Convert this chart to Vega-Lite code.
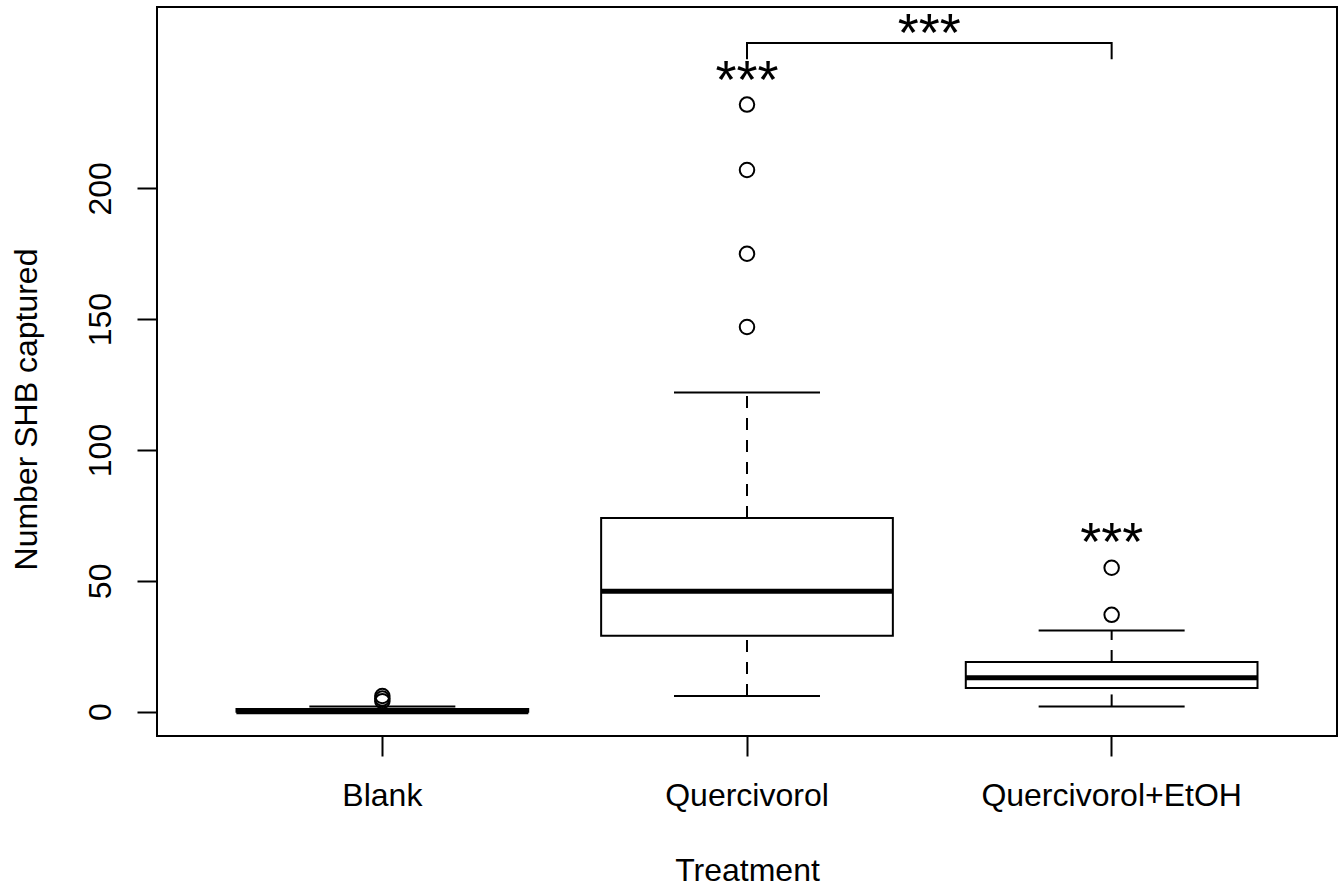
{
  "$schema": "https://vega.github.io/schema/vega-lite/v6.json",
  "autosize": {"type": "none"},
  "padding": {"left": 157, "top": 7, "right": 2, "bottom": 150},
  "width": 1180,
  "height": 729,
  "background": "white",
  "config": {
    "font": "Liberation Sans",
    "view": {"stroke": "black", "strokeWidth": 2},
    "axis": {
      "grid": false,
      "domain": false,
      "tickColor": "black",
      "tickWidth": 2,
      "tickSize": 20,
      "labelColor": "black",
      "titleColor": "black",
      "labelFont": "Liberation Sans",
      "titleFont": "Liberation Sans",
      "labelFontSize": 32,
      "titleFontSize": 32,
      "titleFontWeight": "normal",
      "labelLimit": 0,
      "labelOverlap": false
    }
  },
  "datasets": {
    "boxes": [
      {"treatment": "Blank", "lo": 0, "q1": 0, "median": 0, "q3": 1, "hi": 2},
      {"treatment": "Quercivorol", "lo": 6, "q1": 29, "median": 46, "q3": 74, "hi": 122},
      {"treatment": "Quercivorol+EtOH", "lo": 2, "q1": 9, "median": 13, "q3": 19, "hi": 31}
    ],
    "outliers": [
      {"treatment": "Blank", "value": 4},
      {"treatment": "Blank", "value": 5},
      {"treatment": "Blank", "value": 6},
      {"treatment": "Quercivorol", "value": 147},
      {"treatment": "Quercivorol", "value": 175},
      {"treatment": "Quercivorol", "value": 207},
      {"treatment": "Quercivorol", "value": 232},
      {"treatment": "Quercivorol+EtOH", "value": 37},
      {"treatment": "Quercivorol+EtOH", "value": 55}
    ],
    "stars": [
      {"treatment": "Quercivorol", "value": 234.4, "label": "***"},
      {"treatment": "Quercivorol+EtOH", "value": 57.9, "label": "***"}
    ],
    "bracket": [
      {"treatment": "Quercivorol", "value": 249.3, "order": 1},
      {"treatment": "Quercivorol", "value": 255.5, "order": 2},
      {"treatment": "Quercivorol+EtOH", "value": 255.5, "order": 3},
      {"treatment": "Quercivorol+EtOH", "value": 249.3, "order": 4}
    ],
    "topstar": [
      {"treatment": "Quercivorol", "value": 252.6, "label": "***"}
    ]
  },
  "encoding": {
    "x": {
      "field": "treatment",
      "type": "nominal",
      "sort": ["Blank", "Quercivorol", "Quercivorol+EtOH"],
      "scale": {"domain": ["Blank", "Quercivorol", "Quercivorol+EtOH"], "paddingInner": 0, "paddingOuter": 0.118},
      "axis": {"title": "Treatment", "labelAngle": 0, "labelPadding": 24, "titleY": 144, "titleBaseline": "alphabetic", "titleAnchor": "middle"}
    }
  },
  "layer": [
    {
      "data": {"name": "boxes"},
      "mark": {"type": "rule", "color": "black", "strokeWidth": 2, "strokeDash": [12, 10]},
      "encoding": {
        "y": {"field": "q3", "type": "quantitative",
          "scale": {"domain": [-9.3, 269.3], "nice": false, "zero": false},
          "axis": {"title": "Number SHB captured", "values": [0, 50, 100, 150, 200], "labelAngle": -90, "labelAlign": "center", "labelBaseline": "alphabetic", "labelPadding": 27, "titleAngle": -90, "titleX": -121, "titleY": 402, "titleAlign": "center", "titleBaseline": "alphabetic"}},
        "y2": {"field": "hi"}
      }
    },
    {
      "data": {"name": "boxes"},
      "mark": {"type": "rule", "color": "black", "strokeWidth": 2, "strokeDash": [12, 10]},
      "encoding": {
        "y": {"field": "lo", "type": "quantitative"},
        "y2": {"field": "q1"}
      }
    },
    {
      "data": {"name": "boxes"},
      "mark": {"type": "tick", "orient": "horizontal", "color": "black", "size": 146, "thickness": 2, "opacity": 1},
      "encoding": {"y": {"field": "hi", "type": "quantitative"}}
    },
    {
      "data": {"name": "boxes"},
      "mark": {"type": "tick", "orient": "horizontal", "color": "black", "size": 146, "thickness": 2, "opacity": 1},
      "encoding": {"y": {"field": "lo", "type": "quantitative"}}
    },
    {
      "data": {"name": "boxes"},
      "mark": {"type": "bar", "fill": "white", "stroke": "black", "strokeWidth": 2, "width": {"band": 0.8}},
      "encoding": {
        "y": {"field": "q1", "type": "quantitative"},
        "y2": {"field": "q3"}
      }
    },
    {
      "data": {"name": "boxes"},
      "mark": {"type": "tick", "orient": "horizontal", "color": "black", "size": 292, "thickness": 5, "opacity": 1},
      "encoding": {"y": {"field": "median", "type": "quantitative"}}
    },
    {
      "data": {"name": "outliers"},
      "mark": {"type": "point", "shape": "circle", "filled": false, "stroke": "black", "strokeWidth": 2, "size": 210, "opacity": 1},
      "encoding": {"y": {"field": "value", "type": "quantitative"}}
    },
    {
      "data": {"name": "stars"},
      "mark": {"type": "text", "fontSize": 54, "font": "Liberation Sans", "color": "black", "align": "center", "baseline": "alphabetic"},
      "encoding": {"y": {"field": "value", "type": "quantitative"}, "text": {"field": "label"}}
    },
    {
      "data": {"name": "bracket"},
      "mark": {"type": "line", "color": "black", "strokeWidth": 2},
      "encoding": {"y": {"field": "value", "type": "quantitative"}, "order": {"field": "order"}}
    },
    {
      "data": {"name": "topstar"},
      "mark": {"type": "text", "fontSize": 54, "font": "Liberation Sans", "color": "black", "align": "center", "baseline": "alphabetic"},
      "encoding": {
        "x": {"field": "treatment", "type": "nominal", "bandPosition": 1},
        "y": {"field": "value", "type": "quantitative"},
        "text": {"field": "label"}
      }
    }
  ]
}
